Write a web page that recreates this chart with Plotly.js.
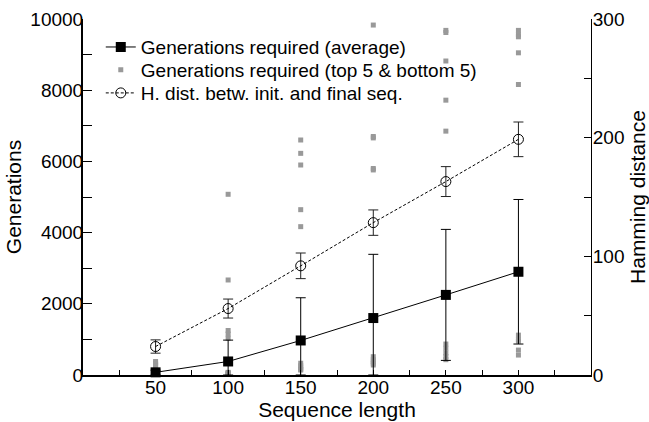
<!DOCTYPE html>
<html>
<head>
<meta charset="utf-8">
<script src="https://cdn.plot.ly/plotly-3.0.1.min.js"></script>
<style>html,body{margin:0;padding:0;background:#fff;}#chart{width:649px;height:422px;}</style>
</head>
<body>
<div id="chart"></div>
<script>
// Sequence lengths
const lengths = [50, 100, 150, 200, 250, 300];
// Generations required (average) and its error bar extents
const genAvg = [75, 380, 970, 1600, 2250, 2900];
const genErrUp = [60, 600, 1200, 1790, 1840, 2030];
const genErrDown = [75, 380, 970, 1600, 1840, 2030];
// Generations required: top 5 and bottom 5 runs per length
const genTop5 = [
  [380, 340, 300, 260, 230],
  [5076, 2669, 1250, 1150, 1030],
  [6601, 6226, 5899, 4644, 4167],
  [9830, 6700, 6660, 5800, 5760],
  [9680, 9620, 8820, 7720, 6850],
  [9680, 9560, 9500, 9050, 8160]
];
const genBottom5 = [
  [60, 45, 35, 25, 15],
  [75, 60, 45, 30, 20],
  [330, 260, 200, 160, 140],
  [514, 430, 380, 330, 281],
  [870, 750, 620, 520, 430],
  [1120, 1000, 950, 700, 560]
];
// Hamming distance between initial and final sequence
const hamAvg = [24, 56, 92, 128.4, 163, 198.6];
const hamErr = [5.6, 8, 10.8, 10.7, 12.6, 14.6];

// Axis tick labels
const xTickVals = [50, 100, 150, 200, 250, 300];
const yTickVals = [0, 2000, 4000, 6000, 8000, 10000];
const yTickText = ['0', '2000', '4000', '6000', '8000', '10000'];
const y2TickVals = [0, 100, 200, 300];

const grayX = [], grayY = [];
lengths.forEach((L, i) => {
  genTop5[i].concat(genBottom5[i]).forEach(v => { grayX.push(L); grayY.push(v); });
});

const FONT = 'Liberation Sans, Arial, Helvetica, sans-serif';

const traces = [
  {
    x: grayX, y: grayY, type: 'scatter', mode: 'markers',
    name: 'Generations required (top 5 & bottom 5)',
    marker: {symbol: 'square', size: 5, color: '#999999'},
    legend: 'legend2', cliponaxis: false
  },
  {
    x: lengths, y: genAvg, type: 'scatter', mode: 'lines+markers',
    name: 'Generations required (average)',
    line: {color: '#000', width: 1},
    marker: {symbol: 'square', size: 10, color: '#000'},
    error_y: {type: 'data', symmetric: false, array: genErrUp, arrayminus: genErrDown,
              color: '#000', thickness: 1, width: 5},
    legend: 'legend', cliponaxis: false
  },
  {
    x: lengths, y: hamAvg, type: 'scatter', mode: 'lines+markers', yaxis: 'y2',
    name: 'H. dist. betw. init. and final seq.',
    line: {color: '#000', width: 1, dash: '3px,2px'},
    marker: {symbol: 'circle-open', size: 10, color: '#000', line: {width: 1, color: '#000'}},
    error_y: {type: 'data', array: hamErr, color: '#222', thickness: 1, width: 5},
    legend: 'legend3', cliponaxis: false
  }
];

function leg(y) {
  return {x: 0.035, y: y, xanchor: 'left', yanchor: 'middle',
          bgcolor: 'rgba(0,0,0,0)', borderwidth: 0,
          font: {family: FONT, size: 19, color: '#000'}};
}

const layout = {
  width: 649, height: 422,
  margin: {l: 83, r: 58, t: 19, b: 47},
  paper_bgcolor: '#fff', plot_bgcolor: '#fff',
  font: {family: FONT, size: 18, color: '#000'},
  showlegend: true,
  legend: leg(0.921),
  legend2: leg(0.857),
  legend3: leg(0.792),
  xaxis: {
    range: [0, 350], tickvals: xTickVals,
    ticks: 'inside', ticklen: 5, tickwidth: 1, tickcolor: '#000',
    ticklabelstandoff: -6,
    minor: {dtick: 25, tick0: 0, ticks: 'inside', ticklen: 5, tickcolor: '#000', tickwidth: 1},
    showline: true, linecolor: '#000', linewidth: 2, showgrid: false, zeroline: false,
    tickfont: {size: 19},
    title: {text: 'Sequence length', font: {size: 21}, standoff: 2}
  },
  yaxis: {
    range: [0, 10000], tickvals: yTickVals, ticktext: yTickText,
    ticks: 'inside', ticklen: 9, tickwidth: 1, tickcolor: '#000',
    ticklabelstandoff: -6,
    minor: {dtick: 1000, tick0: 0, ticks: 'inside', ticklen: 9, tickcolor: '#000', tickwidth: 1},
    showline: true, linecolor: '#000', linewidth: 2, showgrid: false, zeroline: false,
    tickfont: {size: 19},
    title: {text: 'Generations', font: {size: 21}, standoff: 3}
  },
  yaxis2: {
    overlaying: 'y', side: 'right', range: [0, 300],
    tickvals: y2TickVals,
    ticks: 'inside', ticklen: 7, tickwidth: 1, tickcolor: '#000',
    ticklabelstandoff: -3,
    minor: {dtick: 50, tick0: 0, ticks: 'inside', ticklen: 7, tickcolor: '#000', tickwidth: 1},
    showline: true, linecolor: '#000', linewidth: 1, showgrid: false, zeroline: false,
    tickfont: {size: 19},
    title: {text: 'Hamming distance', font: {size: 21}, standoff: 26}
  }
};

Plotly.newPlot('chart', traces, layout, {staticPlot: true, displayModeBar: false});
</script>
</body>
</html>
